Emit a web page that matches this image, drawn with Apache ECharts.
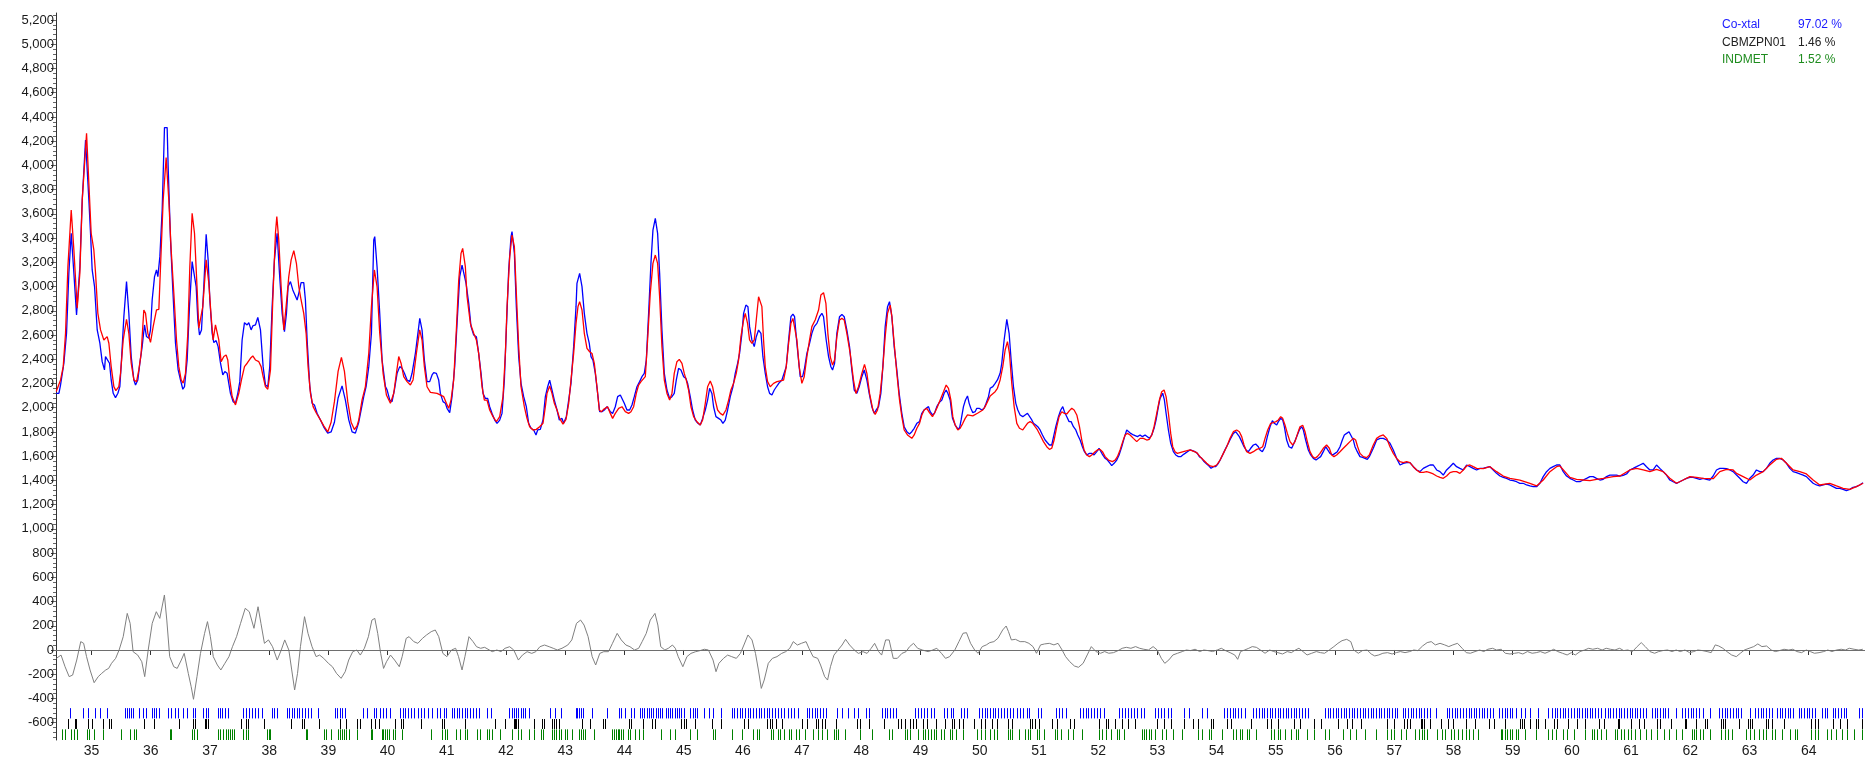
<!DOCTYPE html>
<html>
<head>
<meta charset="utf-8">
<title>Rietveld fit</title>
<script src="https://cdn.jsdelivr.net/npm/echarts@6.0.0/dist/echarts.min.js"></script>
<style>
  html, body { margin: 0; padding: 0; background: #fff; }
  #chart { width: 1865px; height: 763px; }
</style>
</head>
<body>
<div id="chart"></div>
<script>
  // axis ticks
  const TWO_THETA_TICKS = [35, 36, 37, 38, 39, 40, 41, 42, 43, 44, 45, 46, 47, 48, 49, 50, 51, 52, 53, 54, 55, 56, 57, 58, 59, 60, 61, 62, 63, 64]
  const COUNT_TICKS = [-600, -400, -200, 0, 200, 400, 600, 800, 1000, 1200, 1400, 1600, 1800, 2000, 2200, 2400, 2600, 2800, 3000, 3200, 3400, 3600, 3800, 4000, 4200, 4400, 4600, 4800, 5000, 5200]

  // phases: name, weight %
  const PHASE_NAMES = ['Co-xtal', 'CBMZPN01', 'INDMET']
  const PHASE_PCT = ['97.02 %', '1.46 %', '1.52 %']

  // observed pattern [2theta, counts]
  const OBS = [
    [34.404,2119],[34.449,2119],[34.477,2188],[34.505,2202],[34.533,2367],[34.578,2614],[34.617,3110],[34.657,3440],[34.702,3110],[34.747,2766],[34.803,3164],[34.843,3715],[34.899,4210],[34.955,3715],[34.983,3440],[35.011,3137],[35.051,3000],[35.096,2642],[35.141,2532],[35.180,2380],[35.219,2312],[35.236,2422],[35.264,2427],[35.304,2367],[35.332,2229],[35.366,2119],[35.405,2083],[35.445,2119],[35.478,2174],[35.506,2394],[35.546,2752],[35.591,3041],[35.630,2779],[35.670,2422],[35.715,2229],[35.743,2188],[35.782,2229],[35.816,2367],[35.855,2504],[35.895,2683],[35.928,2587],[35.968,2573],[35.996,2642],[36.024,2889],[36.064,3082],[36.097,3137],[36.120,3082],[36.154,3247],[36.193,3632],[36.232,4312],[36.277,4312],[36.294,3990],[36.334,3385],[36.373,2972],[36.418,2532],[36.463,2312],[36.502,2229],[36.542,2152],[36.570,2174],[36.615,2394],[36.654,2834],[36.699,3206],[36.727,3192],[36.767,3000],[36.795,2724],[36.823,2601],[36.857,2642],[36.896,3000],[36.936,3431],[36.969,3220],[36.998,2889],[37.037,2614],[37.065,2537],[37.104,2554],[37.138,2504],[37.178,2367],[37.217,2270],[37.251,2298],[37.290,2284],[37.318,2284],[37.346,2119],[37.391,2050],[37.431,2037],[37.470,2119],[37.504,2215],[37.543,2559],[37.583,2702],[37.628,2683],[37.656,2702],[37.695,2642],[37.723,2675],[37.768,2683],[37.808,2746],[37.853,2642],[37.898,2339],[37.937,2188],[37.977,2174],[38.010,2339],[38.050,2834],[38.089,3220],[38.134,3440],[38.174,3110],[38.219,2779],[38.258,2628],[38.292,2779],[38.320,3000],[38.359,3041],[38.399,2972],[38.432,2958],[38.472,2889],[38.500,2944],[38.539,3032],[38.584,3032],[38.612,2889],[38.641,2559],[38.686,2174],[38.725,2037],[38.764,2023],[38.809,1954],[38.866,1899],
    [38.922,1840],[38.989,1790],[39.046,1800],[39.102,1880],[39.164,2080],[39.231,2180],[39.288,2060],[39.344,1900],[39.400,1800],[39.456,1790],[39.513,1880],
    [39.597,2092],[39.637,2174],[39.682,2339],[39.727,2614],[39.766,3385],[39.783,3412],[39.822,3164],[39.867,2779],[39.907,2394],[39.963,2174],[39.991,2147],[40.036,2064],[40.075,2050],[40.115,2147],[40.160,2284],[40.205,2339],[40.244,2325],[40.284,2284],[40.329,2229],[40.374,2215],[40.413,2284],[40.469,2449],[40.526,2669],[40.543,2737],
    [40.582,2641],[40.621,2393],[40.666,2215],[40.711,2215],[40.751,2270],[40.779,2289],[40.824,2283],[40.863,2228],[40.891,2118],[40.936,2050],[40.976,2036],[41.004,1995],[41.049,1959],[41.088,2091],[41.133,2338],[41.173,2696],[41.218,3081],[41.257,3177],[41.285,3164],[41.325,3026],[41.370,2861],[41.409,2669],[41.454,2600],[41.499,2586],[41.538,2448],[41.578,2283],[41.612,2118],[41.651,2077],[41.690,2077],[41.724,2008],[41.764,1953],[41.809,1898],[41.848,1871],[41.893,1898],[41.932,1953],[41.972,2228],[42.005,2641],[42.045,3136],[42.084,3411],[42.101,3453],[42.141,3274],[42.174,2834],[42.214,2421],[42.253,2201],[42.298,2091],[42.343,2008],[42.382,1871],[42.422,1830],[42.467,1816],[42.506,1775],[42.534,1816],[42.579,1821],[42.624,1898],[42.664,2091],[42.703,2173],[42.737,2228],[42.776,2146],[42.816,2063],[42.861,1981],[42.900,1898],[42.945,1912],[42.973,1871],[43.018,1926],[43.058,2063],[43.097,2201],[43.142,2504],[43.182,2834],[43.198,3026],[43.243,3109],[43.283,2999],[43.322,2779],[43.367,2614],[43.406,2531],[43.435,2421],[43.468,2393],[43.508,2283],[43.547,2118],[43.581,1967],[43.620,1967],[43.660,1981],[43.705,2008],[43.761,1967],[43.800,1953],[43.845,2008],[43.885,2091],[43.930,2105],[43.958,2118],[43.997,2036],[44.042,1981],[44.087,1981],[44.127,2022],[44.166,2091],[44.211,2173],[44.256,2215],[44.295,2256],[44.335,2283],[44.369,2393],[44.408,2779],[44.447,3191],[44.481,3466],[44.521,3563],[44.560,3439],[44.594,3109],[44.633,2641],[44.673,2283],[44.718,2146],[44.763,2077],[44.802,2091],[44.841,2118],[44.875,2228],[44.914,2325],[44.954,2311],[45.000,2256],[45.038,2242],[45.067,2201],[45.111,2091],[45.151,1981],[45.196,1898],[45.241,1871],[45.280,1857],[45.320,1912],[45.365,1981],[45.404,2063],[45.438,2160],[45.477,2118],[45.505,2008],[45.545,1926],[45.590,1912],[45.629,1898],[45.663,1871],[45.702,1898],[45.742,1981],[45.787,2091],[45.832,2173],[45.871,2283],[45.911,2366],[45.944,2448],[45.984,2614],[46.012,2779],[46.051,2847],[46.085,2834],[46.113,2669],[46.152,2559],[46.192,2504],[46.226,2586],[46.265,2641],[46.305,2614],[46.338,2421],[46.378,2283],[46.417,2173],[46.451,2118],[46.490,2105],[46.530,2146],[46.575,2179],[46.614,2206],[46.659,2228],[46.687,2228],[46.732,2338],[46.772,2559],[46.811,2751],[46.845,2773],[46.873,2751],[46.901,2586],[46.940,2393],[46.968,2256],[47.008,2256],[47.041,2325],[47.081,2448],[47.126,2531],[47.165,2614],[47.205,2669],[47.250,2696],[47.295,2751],[47.334,2779],[47.362,2751],[47.407,2559],[47.447,2421],[47.486,2338],[47.514,2311],[47.548,2366],[47.587,2614],[47.632,2751],[47.672,2770],[47.711,2751],[47.756,2641],[47.801,2504],[47.840,2311],[47.880,2146],[47.925,2118],[47.964,2173],[48.009,2256],[48.049,2311],[48.094,2228],[48.133,2118],[48.178,2008],[48.217,1953],[48.251,1981],[48.291,2008],[48.330,2118],[48.364,2338],[48.403,2669],[48.443,2834],[48.476,2875],
    [48.516,2751],[48.555,2504],[48.600,2311],[48.639,2119],[48.684,1954],[48.724,1843],[48.769,1802],[48.814,1783],[48.853,1802],[48.893,1830],[48.938,1871],[48.983,1885],[49.022,1954],[49.061,1981],[49.095,1995],[49.135,2009],[49.163,1967],[49.202,1940],[49.236,1954],[49.275,2009],[49.315,2042],[49.360,2064],[49.399,2119],[49.433,2146],[49.461,2119],[49.500,2064],[49.540,1912],[49.585,1857],[49.624,1830],[49.658,1830],[49.686,1899],[49.725,2009],[49.759,2064],[49.793,2097],[49.821,2036],[49.849,1995],[49.883,1959],[49.922,1967],[49.950,1995],[49.990,1995],[50.035,1981],[50.074,1995],[50.108,2036],[50.147,2091],[50.176,2160],[50.221,2174],[50.260,2201],[50.299,2229],[50.344,2284],[50.372,2366],[50.412,2559],[50.457,2729],[50.496,2614],[50.530,2394],[50.569,2174],[50.609,2036],[50.643,1981],[50.682,1940],[50.727,1926],[50.766,1940],[50.806,1954],[50.839,1954],[50.879,1899],[50.907,1871],[50.946,1857],[50.980,1843],[51.019,1816],[51.059,1775],[51.104,1733],[51.143,1711],[51.177,1692],[51.216,1692],[51.245,1706],[51.284,1843],[51.329,1926],[51.368,1981],[51.402,2009],[51.430,1967],[51.470,1926],[51.509,1885],[51.543,1885],[51.582,1843],[51.622,1816],[51.655,1775],[51.695,1733],[51.734,1678],[51.768,1637],[51.807,1610],[51.852,1623],[51.892,1623],[51.931,1610],[51.976,1637],[52.015,1665],[52.044,1651],[52.077,1610],[52.117,1582],[52.156,1568],[52.201,1541],[52.229,1522],[52.269,1541],[52.314,1568],[52.353,1610],[52.398,1678],[52.438,1747],[52.482,1816],[52.511,1802],[52.550,1788],[52.595,1775],[52.623,1761],[52.663,1761],[52.708,1775],[52.747,1761],[52.792,1775],[52.831,1761],[52.865,1747],[52.905,1775],[52.944,1830],[52.978,1899],[53.017,2009],[53.045,2077],[53.090,2119],[53.118,2064],[53.147,1954],[53.186,1816],[53.225,1706],[53.270,1637],[53.310,1610],[53.355,1596],[53.394,1596],[53.428,1610],[53.467,1623],[53.507,1637],[53.552,1651],[53.591,1645],[53.636,1637],[53.675,1623],[53.709,1596],[53.748,1582],[53.788,1555],[53.833,1535],[53.872,1519],[53.906,1500],[53.946,1513],[53.985,1513],[54.030,1541],[54.069,1577],[54.114,1623],[54.154,1665],[54.199,1706],[54.238,1747],[54.283,1788],[54.322,1802],[54.351,1788],[54.384,1761],[54.424,1720],[54.463,1678],[54.497,1651],[54.536,1637],[54.576,1665],[54.621,1692],[54.660,1700],[54.705,1678],[54.733,1651],[54.773,1637],[54.818,1678],[54.857,1761],[54.902,1843],[54.942,1893],[54.975,1871],[55.015,1857],[55.043,1885],[55.082,1912],[55.116,1899],[55.144,1843],[55.183,1733],[55.223,1678],[55.268,1665],[55.307,1706],[55.352,1761],[55.397,1816],[55.437,1843],[55.465,1816],[55.504,1733],[55.549,1651],[55.589,1610],[55.634,1582],[55.679,1568],[55.718,1582],[55.757,1596],[55.802,1637],[55.842,1678],[55.875,1665],[55.915,1623],[55.960,1610],[55.999,1623],[56.039,1637],[56.084,1678],[56.123,1733],[56.157,1775],[56.196,1788],[56.236,1802],[56.269,1788],[56.309,1733],[56.337,1678],[56.376,1637],[56.421,1596],[56.466,1590],[56.506,1582],[56.545,1574],[56.579,1596],
    [56.646,1665],[56.703,1733],[56.759,1747],[56.815,1747],[56.872,1733],[56.928,1706],[56.984,1651],[57.040,1582],[57.097,1527],[57.153,1541],[57.209,1546],[57.265,1546],[57.322,1513],[57.378,1486],[57.434,1472],[57.490,1499],[57.547,1513],[57.603,1527],[57.659,1527],[57.716,1486],[57.772,1472],[57.828,1444],[57.884,1486],[57.941,1513],[57.997,1541],[58.053,1513],[58.109,1499],[58.166,1486],[58.222,1527],[58.278,1513],[58.334,1499],[58.391,1486],[58.447,1499],[58.503,1499],[58.560,1508],[58.616,1513],[58.672,1486],[58.728,1458],[58.785,1436],[58.841,1425],[58.897,1417],[58.953,1403],[59.010,1398],[59.066,1389],[59.122,1376],[59.178,1376],[59.235,1362],[59.291,1354],[59.347,1348],[59.404,1348],[59.460,1376],[59.516,1431],[59.572,1472],[59.629,1499],[59.685,1513],[59.741,1527],[59.797,1527],[59.854,1472],[59.910,1436],[59.966,1417],[60.023,1403],[60.079,1389],[60.135,1389],[60.191,1403],[60.248,1417],[60.304,1431],[60.360,1431],[60.416,1417],[60.473,1403],[60.529,1409],[60.585,1431],[60.641,1444],[60.698,1444],[60.754,1444],[60.810,1436],[60.867,1442],[60.923,1453],[60.979,1486],[61.035,1499],[61.092,1513],[61.148,1527],[61.204,1541],[61.260,1513],[61.317,1486],[61.373,1486],[61.429,1527],[61.485,1499],[61.542,1472],[61.598,1444],[61.654,1403],[61.711,1389],[61.767,1376],[61.823,1389],[61.879,1403],[61.936,1417],[61.992,1425],[62.048,1425],[62.104,1417],[62.161,1409],[62.217,1417],[62.273,1409],[62.329,1403],[62.386,1436],[62.442,1486],[62.498,1499],[62.555,1499],[62.611,1497],[62.667,1486],[62.723,1472],[62.780,1444],[62.836,1417],[62.892,1389],[62.948,1376],[63.005,1417],[63.061,1444],[63.117,1486],[63.173,1472],[63.230,1472],[63.286,1499],[63.342,1541],[63.398,1568],[63.455,1582],[63.511,1582],[63.567,1568],[63.624,1541],[63.680,1499],[63.736,1472],[63.792,1464],[63.849,1453],[63.905,1444],[63.961,1431],[64.017,1403],[64.074,1376],[64.130,1362],[64.186,1354],[64.243,1362],[64.299,1370],[64.355,1362],[64.411,1348],[64.468,1334],[64.524,1334],[64.580,1326],[64.636,1315],[64.693,1326],[64.749,1343],[64.805,1348],[64.861,1362],[64.918,1381]
  ]

  // calculated pattern [2theta, counts]
  const CALC = [
    [34.404,2133],[34.477,2229],[34.522,2339],[34.561,2614],[34.601,3164],[34.657,3632],[34.702,3302],[34.758,2821],[34.803,3110],[34.843,3715],[34.916,4265],[34.955,3852],[34.994,3440],[35.039,3302],[35.068,3110],[35.107,2779],[35.152,2642],[35.208,2559],[35.264,2587],[35.293,2532],[35.332,2339],[35.377,2174],[35.411,2141],[35.461,2174],[35.490,2284],[35.535,2559],[35.591,2730],[35.630,2614],[35.670,2367],[35.715,2229],[35.760,2215],[35.799,2312],[35.838,2449],[35.883,2807],[35.912,2779],[35.951,2614],[35.996,2540],[36.041,2669],[36.097,2807],[36.137,2812],[36.165,3164],[36.210,3715],[36.260,4064],[36.305,3715],[36.345,3302],[36.390,2944],[36.435,2559],[36.474,2339],[36.514,2229],[36.547,2202],[36.587,2284],[36.626,2614],[36.660,3164],[36.699,3605],[36.739,3440],[36.784,2972],[36.812,2656],[36.840,2642],[36.879,2834],[36.936,3220],[36.981,3027],[37.020,2752],[37.054,2559],[37.093,2683],[37.121,2669],[37.149,2559],[37.189,2380],[37.234,2422],[37.273,2435],[37.301,2394],[37.335,2229],[37.375,2092],[37.431,2023],[37.487,2119],[37.532,2229],[37.583,2339],[37.628,2367],[37.684,2408],[37.723,2427],[37.768,2394],[37.825,2380],[37.864,2339],[37.898,2257],[37.937,2174],[37.977,2152],[38.022,2312],[38.061,2889],[38.106,3440],[38.129,3577],[38.162,3385],[38.202,3000],[38.247,2642],[38.286,2834],[38.331,3082],[38.371,3220],[38.416,3297],[38.460,3192],[38.500,3000],[38.539,2889],[38.584,2779],[38.624,2614],[38.657,2339],[38.697,2119],[38.742,2009],[38.798,1954],[38.866,1899],
    [38.922,1850],[38.989,1800],[39.046,1880],[39.102,2050],[39.164,2300],[39.220,2416],[39.271,2300],[39.327,2050],[39.384,1880],[39.439,1820],[39.484,1850],[39.513,1900],
    [39.569,2064],[39.625,2174],[39.682,2449],[39.727,2834],[39.777,3137],[39.822,3000],[39.867,2614],[39.924,2284],[39.980,2105],[40.047,2037],[40.104,2119],[40.149,2284],[40.188,2422],[40.227,2367],[40.272,2257],[40.329,2215],[40.385,2188],[40.430,2229],[40.486,2449],[40.542,2642],
    [40.582,2558],[40.621,2338],[40.666,2173],[40.723,2127],[40.835,2118],[40.948,2091],[40.993,2036],[41.032,1995],[41.071,2063],[41.116,2228],[41.161,2641],[41.201,3054],[41.240,3274],[41.268,3315],[41.313,3164],[41.342,2916],[41.398,2696],[41.454,2614],[41.499,2559],[41.538,2448],[41.567,2311],[41.595,2173],[41.634,2063],[41.679,2063],[41.724,1981],[41.780,1926],[41.837,1884],[41.893,1926],[41.949,2091],[41.989,2448],[42.017,2834],[42.062,3246],[42.101,3425],[42.141,3329],[42.174,2944],[42.214,2504],[42.253,2173],[42.309,2008],[42.354,1912],[42.399,1843],[42.456,1816],[42.512,1821],[42.568,1843],[42.624,1871],[42.664,2008],[42.692,2118],[42.737,2179],[42.776,2118],[42.816,2036],[42.861,1981],[42.906,1912],[42.962,1865],[43.013,1904],[43.058,2036],[43.097,2228],[43.142,2448],[43.182,2696],[43.215,2834],[43.243,2875],[43.283,2806],[43.322,2614],[43.367,2490],[43.412,2462],[43.452,2448],[43.491,2366],[43.536,2173],[43.575,1981],[43.609,1967],[43.648,1986],[43.716,2008],[43.761,1953],[43.800,1912],[43.845,1953],[43.902,1995],[43.958,2008],[44.014,1967],[44.070,1953],[44.110,1967],[44.155,2008],[44.200,2118],[44.239,2187],[44.279,2215],[44.312,2201],[44.352,2256],[44.391,2559],[44.436,2944],[44.481,3191],[44.521,3260],[44.560,3191],[44.594,2916],[44.633,2504],[44.673,2228],[44.718,2118],[44.763,2063],[44.802,2118],[44.841,2283],[44.886,2380],[44.926,2399],[44.971,2366],[45.010,2283],[45.044,2228],[45.083,2146],[45.123,2008],[45.168,1926],[45.224,1884],[45.280,1857],[45.320,1898],[45.365,2036],[45.404,2173],[45.449,2220],[45.488,2173],[45.533,2063],[45.573,1981],[45.618,1953],[45.663,1939],[45.714,1981],[45.759,2063],[45.798,2146],[45.843,2201],[45.888,2283],[45.927,2393],[45.967,2586],[46.012,2724],[46.040,2779],[46.079,2696],[46.113,2559],[46.152,2531],[46.192,2559],[46.226,2724],[46.265,2916],[46.293,2930],[46.321,2834],[46.349,2559],[46.378,2338],[46.417,2215],[46.462,2173],[46.518,2201],[46.575,2215],[46.687,2228],[46.732,2338],[46.772,2531],[46.811,2696],[46.845,2737],[46.873,2724],[46.912,2559],[46.951,2338],[46.996,2201],[47.036,2256],[47.081,2421],[47.126,2559],[47.165,2669],[47.221,2724],[47.278,2806],[47.317,2930],[47.362,2949],[47.402,2861],[47.435,2614],[47.475,2421],[47.514,2352],[47.548,2393],[47.587,2586],[47.632,2724],[47.672,2737],[47.711,2724],[47.756,2614],[47.812,2448],[47.868,2228],[47.908,2118],[47.953,2173],[48.009,2283],[48.054,2358],[48.094,2283],[48.139,2118],[48.195,1981],[48.234,1945],[48.274,1981],[48.319,2118],[48.364,2338],[48.403,2586],[48.443,2779],[48.488,2847],
    [48.516,2751],[48.555,2531],[48.600,2284],[48.645,2064],[48.684,1926],[48.724,1816],[48.780,1775],[48.853,1747],[48.893,1775],[48.938,1830],[48.983,1871],[49.022,1940],[49.061,1981],[49.106,1995],[49.151,1959],[49.202,1926],[49.247,1967],[49.287,2009],[49.332,2064],[49.388,2132],[49.433,2187],[49.472,2160],[49.512,2064],[49.545,1926],[49.585,1857],[49.630,1816],[49.669,1830],[49.714,1871],[49.754,1912],[49.793,1940],[49.883,1932],[49.962,1954],[50.052,1981],[50.091,2009],[50.131,2050],[50.176,2097],[50.260,2132],[50.299,2160],[50.344,2229],[50.389,2339],[50.429,2476],[50.468,2545],[50.502,2449],[50.541,2201],[50.581,2009],[50.626,1871],[50.671,1830],[50.727,1816],[50.766,1843],[50.806,1871],[50.851,1885],[50.896,1871],[50.935,1843],[50.975,1816],[51.019,1775],[51.076,1720],[51.132,1678],[51.177,1656],[51.216,1665],[51.256,1733],[51.301,1843],[51.340,1926],[51.385,1967],[51.425,1954],[51.470,1948],[51.515,1976],[51.554,1995],[51.594,1981],[51.639,1940],[51.684,1843],[51.723,1733],[51.762,1651],[51.807,1610],[51.852,1596],[51.892,1610],[51.948,1637],[51.987,1651],[52.032,1656],[52.072,1637],[52.117,1596],[52.173,1568],[52.241,1555],[52.286,1568],[52.325,1596],[52.370,1651],[52.415,1720],[52.454,1775],[52.494,1788],[52.539,1775],[52.595,1747],[52.651,1720],[52.708,1747],[52.764,1747],[52.820,1733],[52.865,1739],[52.905,1775],[52.944,1843],[52.989,1954],[53.034,2064],[53.073,2132],[53.113,2146],[53.147,2091],[53.186,1954],[53.225,1788],[53.259,1678],[53.298,1637],[53.338,1623],[53.439,1637],[53.552,1651],[53.664,1629],[53.720,1596],[53.777,1568],[53.833,1541],[53.889,1519],[53.946,1513],[54.002,1527],[54.058,1568],[54.114,1623],[54.171,1678],[54.227,1747],[54.283,1802],[54.339,1816],[54.384,1802],[54.424,1761],[54.463,1692],[54.508,1637],[54.564,1623],[54.621,1637],[54.677,1656],[54.733,1665],[54.778,1678],[54.818,1747],[54.863,1816],[54.914,1871],[54.958,1877],[55.003,1885],[55.043,1899],[55.082,1926],[55.116,1912],[55.155,1857],[55.195,1788],[55.240,1720],[55.285,1692],[55.324,1720],[55.369,1788],[55.408,1843],[55.454,1855],[55.493,1802],[55.532,1720],[55.577,1637],[55.622,1596],[55.662,1582],[55.701,1596],[55.746,1623],[55.802,1665],[55.858,1692],[55.904,1665],[55.943,1610],[55.982,1596],[56.027,1610],[56.084,1637],[56.140,1665],[56.196,1692],[56.252,1720],[56.309,1747],[56.348,1733],[56.382,1678],[56.421,1623],[56.478,1596],[56.534,1588],[56.579,1610],
    [56.646,1692],[56.703,1747],[56.759,1766],[56.815,1775],[56.872,1747],[56.928,1678],[56.984,1623],[57.040,1582],[57.097,1554],[57.153,1546],[57.209,1554],[57.265,1546],[57.322,1513],[57.378,1486],[57.434,1466],[57.490,1466],[57.547,1472],[57.603,1464],[57.659,1453],[57.716,1436],[57.772,1425],[57.828,1417],[57.884,1436],[57.941,1464],[57.997,1472],[58.053,1472],[58.109,1458],[58.166,1486],[58.222,1519],[58.278,1527],[58.334,1513],[58.391,1499],[58.503,1497],[58.616,1513],[58.728,1472],[58.841,1436],[58.953,1417],[59.122,1403],[59.291,1376],[59.404,1354],[59.516,1403],[59.629,1472],[59.741,1513],[59.797,1519],[59.882,1472],[59.966,1425],[60.079,1409],[60.191,1403],[60.304,1398],[60.416,1409],[60.529,1417],[60.698,1431],[60.810,1436],[60.979,1486],[61.092,1499],[61.204,1486],[61.317,1472],[61.429,1491],[61.542,1472],[61.654,1417],[61.767,1376],[61.879,1403],[61.992,1431],[62.104,1425],[62.217,1417],[62.386,1414],[62.498,1472],[62.611,1491],[62.723,1486],[62.780,1458],[62.892,1431],[63.005,1403],[63.117,1444],[63.230,1472],[63.342,1527],[63.455,1574],[63.539,1582],[63.624,1541],[63.736,1486],[63.849,1472],[63.961,1453],[64.074,1403],[64.186,1362],[64.355,1376],[64.468,1354],[64.580,1334],[64.693,1326],[64.805,1348],[64.918,1376]
  ]

  // difference obs - calc
  const DIFF = [
    [34.406,-69],[34.485,-42],[34.553,-138],[34.622,-220],[34.681,-207],[34.750,-83],[34.818,69],[34.867,55],[34.916,-55],[34.975,-165],[35.044,-270],[35.113,-220],[35.172,-193],[35.240,-165],[35.289,-152],[35.338,-110],[35.407,-69],[35.466,0],[35.535,110],[35.603,302],[35.652,220],[35.702,-14],[35.780,-42],[35.849,-97],[35.898,-220],[35.957,0],[36.025,220],[36.094,316],[36.153,261],[36.231,454],[36.271,247],[36.320,-55],[36.389,-138],[36.447,-152],[36.516,-83],[36.565,-28],[36.634,-193],[36.683,-303],[36.722,-407],[36.781,-220],[36.840,-28],[36.909,137],[36.958,234],[37.007,110],[37.056,-55],[37.125,-124],[37.184,-165],[37.252,-110],[37.321,-55],[37.380,27],[37.449,110],[37.517,220],[37.596,344],[37.664,316],[37.743,179],[37.812,357],[37.861,220],[37.920,55],[37.988,83],[38.057,27],[38.136,-83],[38.204,0],[38.263,83],[38.332,0],[38.381,-165],[38.430,-330],[38.479,-193],[38.528,27],[38.597,275],[38.656,137],[38.724,27],[38.793,-55],[38.852,-42],[38.921,-69],[39.000,-110],[39.068,-138],[39.137,-193],[39.215,-234],[39.284,-179],[39.343,-83],[39.411,-14],[39.480,0],[39.539,-42],[39.608,14],[39.676,110],[39.735,247],[39.784,261],[39.833,137],[39.883,-28],[39.932,-152],[39.981,-97],[40.049,-42],[40.118,-83],[40.197,-138],[40.246,-55],[40.314,96],[40.363,110],[40.442,69],[40.511,55],[40.589,96],[40.658,124],[40.736,151],[40.805,165],[40.864,110],[40.933,-28],[41.001,-55],[41.080,0],[41.149,14],[41.198,-55],[41.257,-165],[41.306,-55],[41.374,110],[41.443,69],[41.502,27],[41.571,14],[41.639,22],[41.718,0],[41.767,-14],[41.845,0],[41.914,-14],[41.983,14],[42.061,27],[42.130,0],[42.209,-83],[42.277,-42],[42.356,-14],[42.434,-28],[42.503,-14],[42.572,27],[42.650,41],[42.729,27],[42.797,14],[42.866,0],[42.945,14],[43.043,41],[43.111,83],[43.190,220],[43.259,247],[43.318,206],[43.386,110],[43.455,-55],[43.514,-124],[43.583,-28],[43.651,-14],[43.730,-14],[43.798,55],[43.877,137],[43.946,83],[44.024,41],[44.093,27],[44.171,0],[44.240,14],[44.299,69],[44.368,137],[44.436,247],[44.515,302],[44.564,206],[44.613,27],[44.682,0],[44.741,14],[44.810,41],[44.859,14],[44.908,-55],[44.986,-138],[45.055,-55],[45.123,-28],[45.202,-14],[45.271,-6],[45.349,6],[45.418,0],[45.496,-83],[45.546,-179],[45.595,-110],[45.673,-69],[45.742,-42],[45.811,-55],[45.889,-69],[45.958,-28],[46.017,41],[46.086,124],[46.154,83],[46.213,-28],[46.262,-165],[46.311,-317],[46.360,-248],[46.429,-110],[46.498,-69],[46.576,-55],[46.655,-28],[46.723,-14],[46.792,14],[46.851,69],[46.920,41],[46.988,55],[47.067,69],[47.116,14],[47.185,-55],[47.263,-69],[47.312,-124],[47.381,-220],[47.430,-248],[47.479,-138],[47.538,-42],[47.607,0],[47.675,41],[47.734,88],[47.803,41],[47.881,0],[47.950,-28],[48.029,-14],[48.097,-28],[48.166,14],[48.225,55],[48.294,-14],[48.343,-42],[48.411,83],[48.470,83],[48.539,-69],[48.608,-69],[48.686,-28],[48.755,-14],[48.814,27],[48.882,55],[48.951,14],[49.030,0],[49.128,-14],[49.206,0],[49.275,14],[49.354,-28],[49.422,-69],[49.491,-55],
    [49.579,0],[49.648,69],[49.717,138],[49.776,143],[49.845,55],[49.914,0],[49.973,-27],[50.042,28],[50.111,42],[50.170,61],[50.239,69],[50.308,97],[50.387,165],[50.446,198],[50.485,152],[50.534,83],[50.603,88],[50.682,69],[50.761,69],[50.830,55],[50.899,28],[50.958,-27],[51.027,42],[51.096,50],[51.175,55],[51.253,42],[51.322,55],[51.391,0],[51.450,-55],[51.519,-96],[51.598,-132],[51.667,-143],[51.746,-110],[51.815,-41],[51.884,28],[51.962,-13],[52.041,-27],[52.110,-13],[52.179,-27],[52.258,-22],[52.337,-5],[52.406,14],[52.475,22],[52.553,14],[52.632,28],[52.701,14],[52.770,6],[52.849,0],[52.928,28],[52.997,0],[53.065,-68],[53.125,-110],[53.194,-82],[53.262,-41],[53.341,-27],[53.420,-13],[53.489,0],[53.558,-5],[53.637,6],[53.715,-13],[53.784,0],[53.853,-5],[53.932,-13],[54.011,0],[54.080,14],[54.149,-5],[54.228,-22],[54.306,-41],[54.356,-77],[54.405,-13],[54.474,0],[54.543,14],[54.602,28],[54.671,22],[54.740,0],[54.818,-27],[54.897,0],[54.966,-13],[55.035,-22],[55.114,-33],[55.193,-13],[55.262,-22],[55.331,0],[55.390,14],[55.459,-13],[55.528,-41],[55.606,-27],[55.685,-13],[55.754,-22],[55.823,-27],[55.902,0],[55.981,28],[56.049,55],[56.118,77],[56.197,88],[56.266,69],[56.315,0],[56.394,-27],[56.463,-5],[56.542,0],[56.611,-33],[56.670,-49],[56.739,-41],[56.808,-27],[56.887,-22],[56.965,-33],[57.034,-22],[57.103,-13],[57.182,-22],[57.261,-13],[57.330,0],[57.399,-5],[57.478,33],[57.556,61],[57.625,69],[57.694,42],[57.773,55],[57.852,42],[57.921,28],[57.990,42],[58.068,55],[58.147,14],[58.216,-22],[58.285,-27],[58.364,-13],[58.443,0],[58.512,-13],[58.581,6],[58.659,14],[58.728,0],[58.807,6],[58.876,-27],[58.955,-33],[59.034,-27],[59.102,-22],[59.171,-33],[59.250,-13],[59.329,-27],[59.398,-22],[59.467,-13],[59.546,-27],[59.615,-13],[59.693,6],[59.762,-13],[59.841,-27],[59.920,-41],[59.989,-22],[60.058,-41],[60.137,-13],[60.215,0],[60.284,14],[60.353,6],[60.432,14],[60.511,0],[60.580,14],[60.649,6],[60.727,0],[60.806,14],[60.875,-5],[60.944,0],[61.023,-13],[61.102,28],[61.171,61],[61.239,28],[61.318,-13],[61.397,-27],[61.466,-13],[61.535,-5],[61.614,0],[61.693,-13],[61.761,0],[61.830,-13],[61.909,0],[61.988,-22],[62.057,-13],[62.126,0],[62.205,-5],[62.283,-13],[62.352,-22],[62.421,42],[62.480,33],[62.549,14],[62.618,-13],[62.697,-41],[62.776,-55],[62.845,-27],[62.914,0],[62.992,14],[63.071,28],[63.140,50],[63.209,28],[63.288,33],[63.367,0],[63.436,-13],[63.505,-5],[63.583,6],[63.662,0],[63.731,6],[63.800,-13],[63.879,-22],[63.958,0],[64.027,-13],[64.096,-27],[64.174,-22],[64.253,-13],[64.322,0],[64.391,-13],[64.470,0],[64.549,6],[64.618,0],[64.686,14],[64.765,6],[64.844,0],[64.913,6]
  ]

  // reflection positions (2theta) for each phase
  const REFL_COXTAL = [
    34.638,34.864,34.940,35.053,35.151,35.264,35.566,35.596,35.626,35.664,35.702,35.808,35.868,35.921,36.019,36.057,36.094,36.132,36.283,36.343,36.404,36.457,36.547,36.615,36.713,36.751,36.887,36.925,36.970,37.128,37.166,37.204,37.249,37.302,37.566,37.611,37.664,37.702,37.755,37.815,37.875,38.042,38.087,38.132,38.306,38.343,38.381,38.419,38.464,38.509,38.555,38.608,38.660,38.713,38.826,39.113,39.151,39.189,39.226,39.279,39.589,39.649,39.762,39.808,39.868,39.921,39.981,40.042,40.208,40.253,40.298,40.343,40.396,40.449,40.509,40.562,40.623,40.675,40.743,40.834,40.879,40.947,40.985,41.091,41.128,41.166,41.204,41.249,41.302,41.347,41.392,41.438,41.491,41.536,41.679,41.740,42.057,42.094,42.132,42.170,42.208,42.245,42.283,42.328,42.381,42.736,42.834,42.925,43.174,43.204,43.234,43.264,43.302,43.453,43.702,43.906,43.943,44.004,44.109,44.155,44.260,44.298,44.336,44.374,44.411,44.449,44.487,44.525,44.562,44.600,44.638,44.698,44.736,44.774,44.811,44.849,44.887,44.925,44.962,45.000,45.113,45.151,45.189,45.226,
    45.344,45.434,45.495,45.630,45.811,45.857,45.902,45.947,45.992,46.038,46.083,46.128,46.174,46.219,46.264,46.309,46.355,46.400,46.445,46.490,46.536,46.588,46.641,46.702,46.762,46.815,46.868,46.928,47.079,47.124,47.169,47.215,47.260,47.305,47.350,47.403,47.592,47.682,47.780,47.871,47.946,48.075,48.135,48.346,48.392,48.437,48.482,48.527,48.588,48.905,48.950,49.003,49.055,49.116,49.176,49.229,49.402,49.455,49.508,49.553,49.682,49.734,49.780,49.983,50.036,50.081,50.127,50.172,50.217,50.262,50.308,50.361,50.413,50.459,50.511,50.564,50.625,50.685,50.738,50.791,50.836,50.979,51.040,51.281,51.341,51.394,51.455,51.696,51.741,51.786,51.832,51.877,51.922,51.983,52.035,52.096,52.360,52.405,52.450,52.496,52.548,52.601,52.662,52.722,52.782,52.963,53.009,53.054,53.114,53.175,53.235,53.454,53.529,53.756,53.831,54.133,54.178,54.223,54.269,54.314,54.367,54.419,54.472,54.623,54.668,54.714,54.759,54.804,54.850,54.895,54.940,54.985,55.031,55.076,55.121,55.166,55.212,55.257,55.302,55.347,55.393,55.438,55.491,55.543,55.830,55.875,55.921,55.966,56.011,56.056,56.102,56.147,56.192,56.237,56.283,56.328,56.373,56.419,56.464,56.509,56.554,56.600,56.645,56.690,56.735,56.781,56.826,56.871,56.917,56.962,57.007,57.052,
    57.143,57.185,57.234,57.277,57.325,57.368,57.416,57.459,57.508,57.550,57.599,57.708,57.891,57.933,57.976,58.024,58.067,58.115,58.158,58.207,58.255,58.298,58.340,58.389,58.432,58.480,58.523,58.571,58.614,58.663,58.766,58.815,58.863,58.906,58.948,58.997,59.058,59.149,59.210,59.301,59.423,59.605,59.666,59.714,59.757,59.799,59.848,59.891,59.939,59.982,60.030,60.079,60.122,60.164,60.213,60.255,60.304,60.347,60.395,60.438,60.486,60.565,60.608,60.650,60.699,60.742,60.790,60.833,60.881,60.924,60.973,61.015,61.064,61.106,61.155,61.198,61.246,61.356,61.398,61.441,61.489,61.532,61.580,61.623,61.763,61.866,61.915,61.957,62.006,62.049,62.097,62.146,62.219,62.328,62.492,62.535,62.584,62.626,62.675,62.717,62.766,62.808,62.857,63.009,63.100,63.143,63.191,63.234,63.283,63.325,63.374,63.465,63.508,63.556,63.599,63.647,63.690,63.739,63.830,63.872,63.921,63.964,64.012,64.055,64.103,64.225,64.267,64.316,64.407,64.450,64.498,64.541,64.590,64.632,64.857,64.900
  ]
  const REFL_CBMZPN01 = [
    34.608,34.713,34.736,34.947,35.000,35.189,35.302,35.325,35.883,36.057,36.472,36.713,36.743,36.909,36.940,36.970,37.528,37.604,37.642,37.906,38.374,38.562,38.585,38.849,39.189,39.302,39.491,39.528,39.717,39.792,39.853,40.132,40.223,40.268,40.570,40.925,40.947,41.302,41.815,41.981,42.132,42.147,42.170,42.208,42.472,42.608,42.638,42.774,42.811,42.849,42.887,43.287,43.415,43.642,43.679,44.079,44.117,44.321,44.472,44.509,44.962,45.000,45.038,45.189,
    45.472,45.630,46.023,46.083,46.415,46.460,46.490,46.551,46.664,47.003,47.079,47.230,47.267,47.343,47.381,47.569,47.924,47.984,48.135,48.376,48.625,48.678,48.739,48.814,48.874,48.927,49.040,49.116,49.267,49.418,49.531,49.568,49.644,49.719,49.908,50.021,50.097,50.210,50.285,50.474,50.549,50.851,50.889,50.926,51.002,51.228,51.304,51.530,51.590,52.020,52.133,52.171,52.284,52.397,52.511,52.624,53.001,53.114,53.228,53.454,53.605,53.680,53.906,53.944,54.170,54.246,54.585,54.850,54.925,55.038,55.302,55.415,55.642,55.755,56.056,56.207,56.283,56.434,56.886,56.999,
    57.173,57.222,57.264,57.447,57.477,57.508,57.599,57.793,57.903,57.994,58.207,58.359,58.602,58.693,58.863,59.131,59.161,59.191,59.301,59.392,59.435,59.544,59.696,59.757,59.939,60.091,60.213,60.456,60.547,60.772,60.802,61.003,61.125,61.216,61.429,61.489,61.672,61.903,61.927,62.097,62.249,62.280,62.523,62.553,62.584,62.827,62.979,63.009,63.040,63.283,63.313,63.374,63.587,64.043,64.103,64.164,64.407,64.529,64.650,64.893
  ]
  const REFL_INDMET = [
    34.509,34.547,34.660,34.698,34.751,34.925,34.962,35.038,35.189,35.491,35.642,35.717,35.755,36.321,36.336,36.698,36.736,36.774,37.136,37.166,37.226,37.264,37.302,37.340,37.377,37.400,37.566,37.604,37.642,37.966,37.989,38.019,38.623,38.645,38.925,38.962,39.038,39.166,39.204,39.234,39.264,39.302,39.340,39.491,39.717,39.740,39.906,39.928,39.958,39.989,40.019,40.094,40.132,40.245,40.736,40.925,40.962,41.000,41.151,41.226,41.302,41.340,41.513,41.566,41.679,41.717,41.755,41.906,42.094,42.208,42.245,42.396,42.472,42.585,42.623,42.774,42.811,42.849,42.887,42.925,43.000,43.038,43.113,43.226,43.264,43.302,43.340,43.491,43.792,43.830,43.853,43.883,43.906,43.943,43.981,44.057,44.094,44.170,44.245,44.321,44.623,44.774,44.849,45.113,45.226,
    45.495,45.532,45.811,45.985,46.174,46.234,46.264,46.475,46.513,46.588,46.626,46.702,46.777,46.815,46.890,46.943,47.041,47.192,47.267,47.343,47.418,47.532,47.569,47.607,47.720,47.984,48.173,48.475,48.512,48.739,48.776,48.814,48.965,49.040,49.078,49.131,49.176,49.229,49.267,49.342,49.402,49.493,49.531,49.606,49.719,49.946,50.021,50.097,50.172,50.247,50.285,50.474,50.511,50.549,50.662,50.760,50.813,50.851,50.964,51.002,51.077,51.266,51.304,51.379,51.492,51.568,51.719,52.020,52.058,52.133,52.209,52.322,52.360,52.435,52.737,52.775,52.812,52.850,52.888,52.963,53.077,53.152,53.265,53.416,53.680,53.756,53.869,53.906,54.095,54.284,54.322,54.397,54.435,54.510,54.548,54.661,54.925,54.963,55.038,55.076,55.151,55.264,55.340,55.378,55.528,55.642,55.830,55.906,56.132,56.245,56.358,56.509,56.698,56.886,56.946,56.999,
    57.112,57.204,57.356,57.416,57.477,57.508,57.550,57.720,57.812,57.854,57.963,58.012,58.085,58.146,58.207,58.267,58.328,58.419,58.802,58.827,58.863,58.906,58.948,58.997,59.058,59.088,59.210,59.392,59.605,59.666,59.726,59.848,59.909,60.030,60.213,60.334,60.365,60.426,60.486,60.577,60.729,60.760,60.821,60.881,60.942,61.003,61.064,61.155,61.246,61.337,61.429,61.550,61.641,61.763,61.854,62.036,62.067,62.097,62.158,62.219,62.340,62.523,62.584,62.644,62.705,62.948,63.009,63.070,63.161,63.222,63.283,63.374,63.435,63.556,63.678,63.769,63.799,64.043,64.103,64.164,64.316,64.377,64.468,64.559,64.650,64.772,64.893
  ]

  const X_MIN = 34.40
  const X_MAX = 64.95
  const Y_MIN = -743
  const Y_MAX = 5258
  const FONT = 'Liberation Sans, Arial, sans-serif'

  const minorCountTicks = []
  for (let v = -720; v <= 5240; v += 40) minorCountTicks.push(v)

  // tick rows for reflections: [top, bottom] in count units
  function reflSeries (name, xs, top, bottom, color) {
    return {
      name,
      type: 'custom',
      silent: true,
      clip: true,
      encode: { x: 0, y: 1 },
      data: xs.map(x => [x, top]),
      renderItem: function (params, api) {
        const p0 = api.coord([api.value(0), top])
        const p1 = api.coord([api.value(0), bottom])
        const x = Math.round(p0[0]) + 0.5
        return {
          type: 'line',
          shape: { x1: x, y1: p0[1], x2: x, y2: p1[1] },
          style: { stroke: color, lineWidth: 1 }
        }
      }
    }
  }

  const legendRows = PHASE_NAMES.map((name, i) => {
    const color = ['#1a1aff', '#222', '#1e8c1e'][i]
    const y = 26 + i * 17.5
    return [
      { type: 'text', left: 1722, top: y - 7, style: { text: name, fill: color, font: '12px ' + FONT } },
      { type: 'text', left: 1798, top: y - 7, style: { text: PHASE_PCT[i], fill: color, font: '12px ' + FONT } }
    ]
  }).flat()

  const option = {
    animation: false,
    backgroundColor: '#fff',
    grid: { left: 56, right: 0, top: 13, bottom: 23 },
    xAxis: {
      type: 'value',
      min: X_MIN,
      max: X_MAX,
      axisLine: { show: true, lineStyle: { color: '#333', width: 1 } },
      axisTick: { show: true, length: 5, customValues: TWO_THETA_TICKS, lineStyle: { color: '#333' } },
      axisLabel: { customValues: TWO_THETA_TICKS, color: '#1a1a1a', fontSize: 14, fontFamily: FONT, margin: 4, formatter: v => String(v) },
      splitLine: { show: false }
    },
    yAxis: [
      {
        type: 'value',
        min: Y_MIN,
        max: Y_MAX,
        axisLine: { show: true, lineStyle: { color: '#333', width: 1 } },
        axisTick: { show: true, length: 5, customValues: COUNT_TICKS, lineStyle: { color: '#333' } },
        axisLabel: { customValues: COUNT_TICKS, color: '#1a1a1a', fontSize: 13, fontFamily: FONT, margin: 2, formatter: v => v.toLocaleString('en-US') },
        splitLine: { show: false }
      },
      {
        type: 'value',
        min: Y_MIN,
        max: Y_MAX,
        position: 'left',
        axisLine: { show: false },
        axisTick: { show: true, length: 3, customValues: minorCountTicks, lineStyle: { color: '#666' } },
        axisLabel: { show: false },
        splitLine: { show: false }
      }
    ],
    graphic: legendRows,
    series: [
      reflSeries('Co-xtal', REFL_COXTAL, -480, -565, '#0000ff'),
      reflSeries('CBMZPN01', REFL_CBMZPN01, -570, -652, '#000000'),
      reflSeries('INDMET', REFL_INDMET, -655, -743, '#008000'),
      {
        name: 'Diff',
        type: 'line',
        data: DIFF,
        showSymbol: false,
        symbol: 'none',
        lineStyle: { color: '#808080', width: 1 },
        markLine: {
          silent: true,
          symbol: ['none', 'none'],
          label: { show: false },
          lineStyle: { color: '#6e6e6e', width: 1.2, type: 'solid' },
          data: [{ yAxis: 0 }]
        }
      },
      {
        name: 'Observed',
        type: 'line',
        data: OBS,
        showSymbol: false,
        symbol: 'none',
        lineStyle: { color: '#0000ff', width: 1.3 }
      },
      {
        name: 'Calculated',
        type: 'line',
        data: CALC,
        showSymbol: false,
        symbol: 'none',
        lineStyle: { color: '#ff0000', width: 1.3 }
      }
    ]
  }

  const chart = echarts.init(document.getElementById('chart'))
  chart.setOption(option)
</script>
</body>
</html>
